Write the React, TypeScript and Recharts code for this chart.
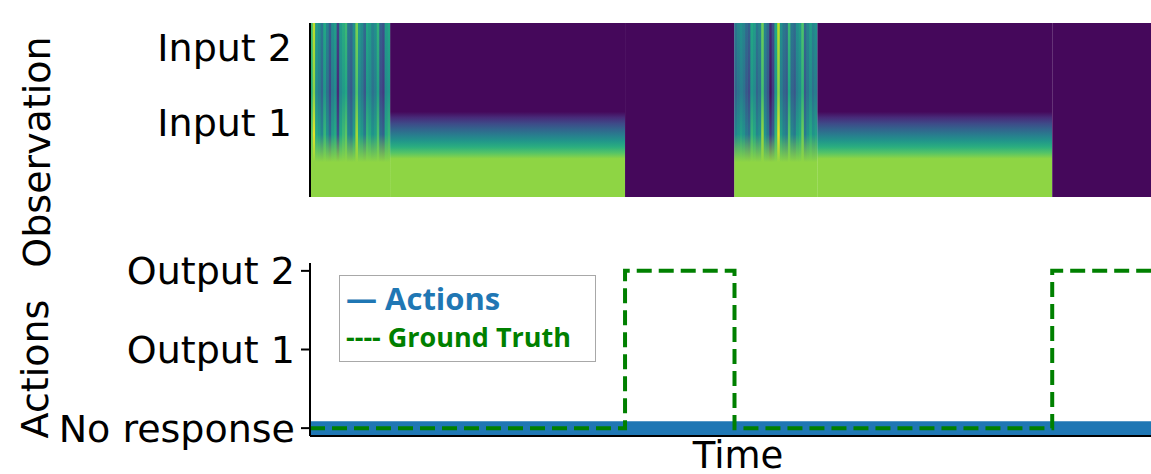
import { ComposedChart, Line, XAxis, YAxis, ReferenceArea, Legend } from 'recharts';

const TIME_END = 315;

// observation heatmap, split into time segments
const obsSegStart = [0, 30, 118, 159, 190, 278];
const obsSegEnd = [30, 118, 159, 190, 278, 315];
const obsSegKind = ['noise', 'hold', 'off', 'noise', 'hold', 'off'];

// column intensities (0..1 on viridis)
const noiseA = [
  0.7, 0.9, 0.55, 0.5, 0.4, 0.6, 0.45, 0.3, 0.5, 0.55,
  0.2, 0.55, 0.62, 0.68, 0.4, 0.35, 0.5, 0.8, 0.55, 0.48,
  0.35, 0.6, 0.55, 0.45, 0.5, 0.65, 0.3, 0.25, 0.55, 0.6,
];
const noiseB = [
  0.4, 0.45, 0.5, 0.45, 0.35, 0.3, 0.6, 0.55, 0.4, 0.45,
  0.78, 0.45, 0.35, 0.12, 0.25, 0.6, 0.9, 0.5, 0.4, 0.35,
  0.68, 0.4, 0.35, 0.5, 0.55, 0.72, 0.35, 0.45, 0.55, 0.45, 0.5,
];
const HOLD_LEVEL = 0.83;
const OFF_LEVEL = 0.02;

const obsTicks = [3, 6];
const obsTickLabels = ['Input 1', 'Input 2'];

// action panel
const times = [0, 118, 159, 278, 315];
const actions = [0, 0, 0, 0, 0];
const groundTruth = [0, 2, 0, 2, 2];
const actionTicks = [0, 1, 2];
const actionTickLabels = ['No response', 'Output 1', 'Output 2'];

const VIRIDIS = [
  '#440154', '#482475', '#414487', '#355f8d', '#2a788e', '#21918c',
  '#22a884', '#44bf70', '#7ad151', '#bddf26', '#fde725',
];

function hexRgb(h: string) {
  return [1, 3, 5].map((i) => parseInt(h.slice(i, i + 2), 16));
}

function viridis(v: number) {
  const x = Math.max(0, Math.min(1, v)) * 10;
  const i = Math.min(9, Math.floor(x));
  const t = x - i;
  const a = hexRgb(VIRIDIS[i]);
  const b = hexRgb(VIRIDIS[i + 1]);
  const c = a.map((av, k) => Math.round(av + (b[k] - av) * t));
  return `rgb(${c[0]},${c[1]},${c[2]})`;
}

const noiseSets = [noiseA, noiseB];
const noiseColumns: { x1: number; x2: number; v: number; id: string }[] = [];
let noiseSeen = 0;
obsSegKind.forEach((kind, s) => {
  if (kind !== 'noise') return;
  const vals = noiseSets[noiseSeen++];
  vals.forEach((v, i) => {
    noiseColumns.push({ x1: obsSegStart[s] + i, x2: obsSegStart[s] + i + 1, v, id: `nc-${s}-${i}` });
  });
});

const obsData = obsSegStart.map((t, i) => ({ t, end: obsSegEnd[i] }));
const actionData = times.map((t, i) => ({ t, actions: actions[i], groundTruth: groundTruth[i] }));

const axisStroke = { stroke: '#000', strokeWidth: 2 };
const tickFont = { fontSize: 38, fill: '#000', fontFamily: 'DejaVu Sans' };

function HoldGradient() {
  const steps = 8;
  const stops = [];
  for (let k = 0; k <= steps; k++) {
    const off = 0.51 + (k * 0.27) / steps;
    const v = OFF_LEVEL + ((HOLD_LEVEL - OFF_LEVEL) * k) / steps;
    stops.push(<stop key={k} offset={off} stopColor={viridis(v)} />);
  }
  return (
    <linearGradient id="g-hold" x1="0" y1="0" x2="0" y2="1">
      <stop offset={0} stopColor={viridis(OFF_LEVEL)} />
      {stops}
      <stop offset={1} stopColor={viridis(HOLD_LEVEL)} />
    </linearGradient>
  );
}

function ObservationPanel() {
  return (
    <ComposedChart width={1151} height={280} data={obsData} margin={{ top: 23, right: 0, bottom: 83, left: 0 }}>
      <defs>
        <HoldGradient />
        <linearGradient id="g-noise" x1="0" y1="0" x2="0" y2="1">
          <stop offset={0} stopColor={viridis(0.45)} />
          <stop offset={0.66} stopColor={viridis(0.5)} />
          <stop offset={0.8} stopColor={viridis(HOLD_LEVEL)} />
          <stop offset={1} stopColor={viridis(HOLD_LEVEL)} />
        </linearGradient>
        <linearGradient id="g-off" x1="0" y1="0" x2="0" y2="1">
          <stop offset={0} stopColor={viridis(OFF_LEVEL)} />
          <stop offset={1} stopColor={viridis(OFF_LEVEL)} />
        </linearGradient>
        {noiseColumns.map((c) => (
          <linearGradient key={c.id} id={c.id} x1="0" y1="0" x2="0" y2="1">
            <stop offset={0} stopColor={viridis(c.v)} />
            <stop offset={0.4} stopColor={viridis(c.v - 0.08)} />
            <stop offset={0.64} stopColor={viridis(c.v + 0.06)} />
            <stop offset={0.8} stopColor={viridis(HOLD_LEVEL)} />
            <stop offset={1} stopColor={viridis(HOLD_LEVEL)} />
          </linearGradient>
        ))}
      </defs>
      <XAxis type="number" dataKey="t" domain={[0, TIME_END]} allowDataOverflow hide />
      <YAxis
        type="number"
        domain={[0, 7]}
        allowDataOverflow
        ticks={obsTicks}
        tickFormatter={(v: number) => obsTickLabels[obsTicks.indexOf(v)]}
        width={310}
        tickLine={false}
        tickSize={0}
        tickMargin={18}
        tick={tickFont}
        axisLine={axisStroke}
        label={{
          content: () => (
            <text transform="translate(50,152) rotate(-90)" textAnchor="middle" fontSize={38} fontFamily="DejaVu Sans" fill="#000">
              Observation
            </text>
          ),
        }}
      />
      {obsSegStart.map((s, i) => (
        <ReferenceArea
          key={`seg-${i}`}
          x1={s}
          x2={obsSegEnd[i]}
          y1={0}
          y2={7}
          fill={`url(#g-${obsSegKind[i]})`}
          fillOpacity={1}
          stroke="none"
          ifOverflow="visible"
        />
      ))}
      {noiseColumns.map((c) => (
        <ReferenceArea
          key={c.id}
          x1={c.x1}
          x2={c.x2}
          y1={0}
          y2={7}
          fill={`url(#${c.id})`}
          fillOpacity={1}
          stroke="none"
          ifOverflow="visible"
        />
      ))}
    </ComposedChart>
  );
}

function LegendBox({ payload }: any) {
  return (
    <div
      style={{
        width: 257,
        height: 87,
        boxSizing: 'border-box',
        border: '1.5px solid #a8a8a8',
        background: '#fff',
        padding: '4px 0 0 6px',
        fontFamily: '"Open Sans", "Liberation Sans", Arial, sans-serif',
        fontWeight: 700,
        whiteSpace: 'nowrap',
      }}
    >
      {(payload || []).map((entry: any, i: number) => {
        const dashed = !!entry.payload?.strokeDasharray;
        return (
          <div key={i} style={{ color: entry.color, fontSize: dashed ? 27 : 31, lineHeight: dashed ? '41px' : '36px' }}>
            {dashed ? '---- ' : '— '}
            {entry.value}
          </div>
        );
      })}
    </div>
  );
}

function ActionPanel() {
  return (
    <ComposedChart width={1151} height={234} data={actionData} margin={{ top: 23, right: 0, bottom: 0, left: 0 }}>
      <XAxis
        type="number"
        dataKey="t"
        domain={[0, TIME_END]}
        allowDataOverflow
        tick={false}
        tickLine={false}
        axisLine={axisStroke}
        height={38}
        label={{
          content: () => (
            <text x={738} y={228} textAnchor="middle" fontSize={37} fontFamily="DejaVu Sans" fill="#000">
              Time
            </text>
          ),
        }}
      />
      <YAxis
        type="number"
        domain={[-0.1, 2.1]}
        allowDataOverflow
        ticks={actionTicks}
        tickFormatter={(v: number) => actionTickLabels[v]}
        width={310}
        tickSize={9}
        tickMargin={6}
        tick={tickFont}
        axisLine={axisStroke}
        tickLine={axisStroke}
        label={{
          content: () => (
            <text transform="translate(48,129) rotate(-90)" textAnchor="middle" fontSize={38} fontFamily="DejaVu Sans" fill="#000">
              Actions
            </text>
          ),
        }}
      />
      <Line dataKey="actions" name="Actions" type="linear" stroke="#1f77b4" strokeWidth={14} dot={false} activeDot={false} isAnimationActive={false} />
      <Line
        dataKey="groundTruth"
        name="Ground Truth"
        type="stepAfter"
        stroke="#008000"
        strokeWidth={4}
        strokeDasharray="15 7"
        dot={false}
        activeDot={false}
        isAnimationActive={false}
      />
      <Legend
        layout="vertical"
        align="center"
        verticalAlign="middle"
        width={257}
        height={87}
        wrapperStyle={{ left: 339, top: 35, width: 257, height: 87 }}
        content={<LegendBox />}
      />
    </ComposedChart>
  );
}

export default function App() {
  return (
    <div style={{ position: 'absolute', left: 0, top: 0, width: 1151, height: 474, background: '#fff', overflow: 'hidden', fontFamily: 'DejaVu Sans' }}>
      <div style={{ position: 'absolute', left: 0, top: 0 }}>
        <ObservationPanel />
      </div>
      <div style={{ position: 'absolute', left: 0, top: 240 }}>
        <ActionPanel />
      </div>
    </div>
  );
}
